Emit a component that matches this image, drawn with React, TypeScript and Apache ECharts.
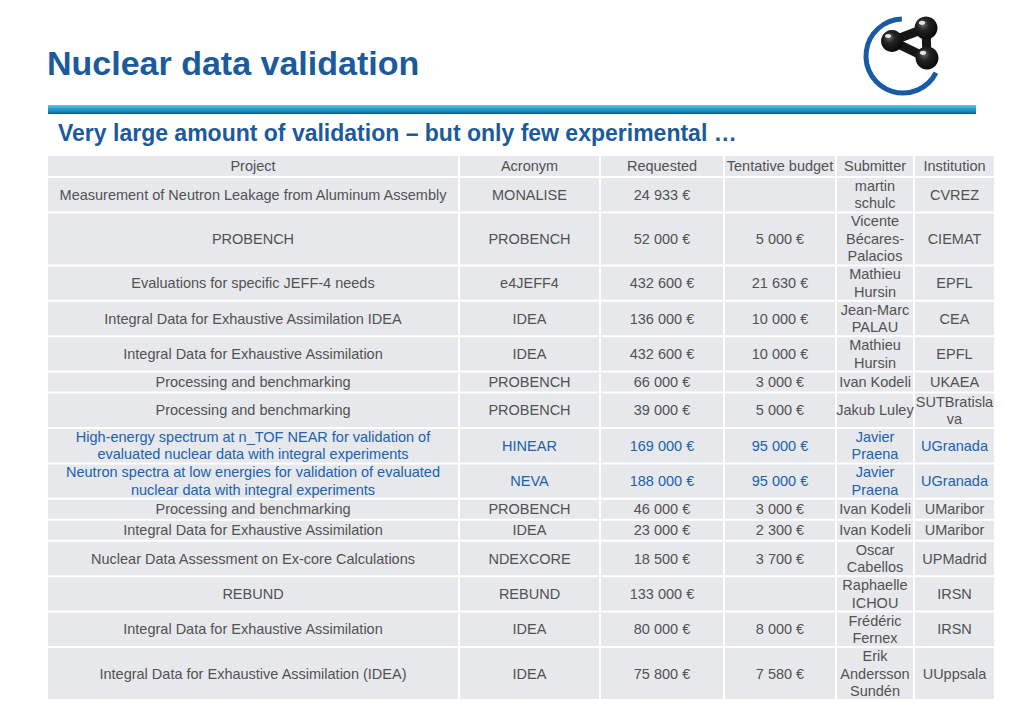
import React, { useEffect, useRef } from "react";
import * as echarts from "echarts";

const title = "Nuclear data validation";
const subtitle = "Very large amount of validation – but only few experimental …";
const headers = ["Project", "Acronym", "Requested", "Tentative budget", "Submitter", "Institution"];
const projects = [
  "Measurement of Neutron Leakage from Aluminum Assembly",
  "PROBENCH",
  "Evaluations for specific JEFF-4 needs",
  "Integral Data for Exhaustive Assimilation IDEA",
  "Integral Data for Exhaustive Assimilation",
  "Processing and benchmarking",
  "Processing and benchmarking",
  "High-energy spectrum at n_TOF NEAR for validation of\nevaluated nuclear data with integral experiments",
  "Neutron spectra at low energies for validation of evaluated\nnuclear data with integral experiments",
  "Processing and benchmarking",
  "Integral Data for Exhaustive Assimilation",
  "Nuclear Data Assessment on Ex-core Calculations",
  "REBUND",
  "Integral Data for Exhaustive Assimilation",
  "Integral Data for Exhaustive Assimilation (IDEA)",
];
const acronyms = ["MONALISE", "PROBENCH", "e4JEFF4", "IDEA", "IDEA", "PROBENCH", "PROBENCH", "HINEAR", "NEVA", "PROBENCH", "IDEA", "NDEXCORE", "REBUND", "IDEA", "IDEA"];
const requested = [24933, 52000, 432600, 136000, 432600, 66000, 39000, 169000, 188000, 46000, 23000, 18500, 133000, 80000, 75800];
const budget: (number | null)[] = [null, 5000, 21630, 10000, 10000, 3000, 5000, 95000, 95000, 3000, 2300, 3700, null, 8000, 7580];
const submitters = [
  "martin\nschulc", "Vicente\nBécares-\nPalacios", "Mathieu\nHursin", "Jean-Marc\nPALAU", "Mathieu\nHursin",
  "Ivan Kodeli", "Jakub Luley", "Javier\nPraena", "Javier\nPraena", "Ivan Kodeli", "Ivan Kodeli",
  "Oscar\nCabellos", "Raphaelle\nICHOU", "Frédéric\nFernex", "Erik\nAndersson\nSundén",
];
const institutions = ["CVREZ", "CIEMAT", "EPFL", "CEA", "EPFL", "UKAEA", "SUTBratisla\nva", "UGranada", "UGranada", "UMaribor", "UMaribor", "UPMadrid", "IRSN", "IRSN", "UUppsala"];
const highlighted = [false, false, false, false, false, false, false, true, true, false, false, false, false, false, false];

const colEdges = [47, 459, 600, 724, 836, 914, 995];
const rowHeightByLines: Record<number, number> = { 1: 21, 2: 35.4, 3: 53 };
const tableTop = 155;
const headerH = 22;

const fmtEuro = (v: number | null) => {
  if (v === null) return "";
  const s = String(v).replace(/\B(?=(\d{3})+(?!\d))/g, " ");
  return s + " €";
};

const GRAY = "#525252";
const BLUE = "#2062ab";
const CELL = "#e7e8eb";
const FONT = "'Liberation Sans', Arial, Helvetica, sans-serif";

function buildGraphic() {
  const els: any[] = [];
  els.push({
    type: "text",
    style: { x: 47, y: 63, text: title, fill: "#1b5a9b", font: `bold 34px ${FONT}`, textVerticalAlign: "middle" },
  });
  els.push({
    type: "rect",
    shape: { x: 48, y: 105, width: 928, height: 9 },
    style: {
      fill: {
        type: "linear", x: 0, y: 0, x2: 0, y2: 1,
        colorStops: [
          { offset: 0, color: "#74c6e2" },
          { offset: 0.35, color: "#2aa2d2" },
          { offset: 0.75, color: "#1585b8" },
          { offset: 1, color: "#0f4c6c" },
        ],
      },
    },
  });
  els.push({
    type: "text",
    style: { x: 58, y: 133, text: subtitle, fill: "#1b5a9b", font: `bold 23px ${FONT}`, textVerticalAlign: "middle" },
  });
  els.push({
    type: "arc",
    shape: { cx: 903, cy: 56, r: 37, startAngle: 0.47, endAngle: Math.PI * 1.49, clockwise: true },
    style: { stroke: "#1a5aa5", lineWidth: 5, fill: "none" },
  });
  const atoms = [
    [892, 41, 11],
    [926, 28, 11.5],
    [927, 58, 11.5],
  ];
  const bonds = [[0, 1], [1, 2], [2, 0]];
  bonds.forEach(([a, b]) => {
    els.push({
      type: "line",
      shape: { x1: atoms[a][0], y1: atoms[a][1], x2: atoms[b][0], y2: atoms[b][1] },
      style: { stroke: "#161616", lineWidth: 9, lineCap: "round" },
    });
  });
  atoms.forEach(([cx, cy, r]) => {
    els.push({
      type: "circle",
      shape: { cx, cy, r },
      style: {
        fill: {
          type: "radial", x: 0.38, y: 0.35, r: 0.75,
          colorStops: [
            { offset: 0, color: "#6a6a6a" },
            { offset: 0.35, color: "#222" },
            { offset: 1, color: "#050505" },
          ],
        },
      },
    });
    els.push({
      type: "ellipse",
      shape: { cx: cx - r * 0.35, cy: cy - r * 0.45, rx: r * 0.28, ry: r * 0.18 },
      style: { fill: "rgba(255,255,255,0.85)" },
    });
  });

  const drawRow = (cells: string[], y0: number, h: number, color: string) => {
    for (let c = 0; c < 6; c++) {
      const x0 = colEdges[c];
      const x1 = colEdges[c + 1];
      els.push({
        type: "rect",
        shape: { x: x0 + 1, y: y0 + 1, width: x1 - x0 - 2, height: h - 2 },
        style: { fill: CELL },
      });
      if (cells[c]) {
        els.push({
          type: "text",
          style: {
            x: (x0 + x1) / 2,
            y: y0 + h / 2,
            text: cells[c],
            fill: color,
            font: `14.5px ${FONT}`,
            lineHeight: 17.5,
            textAlign: "center",
            textVerticalAlign: "middle",
          },
        });
      }
    }
  };
  drawRow(headers, tableTop, headerH, GRAY);
  let y = tableTop + headerH;
  for (let i = 0; i < projects.length; i++) {
    const cells = [projects[i], acronyms[i], fmtEuro(requested[i]), fmtEuro(budget[i]), submitters[i], institutions[i]];
    const lines = Math.max(...cells.map((s) => s.split("\n").length));
    const h = rowHeightByLines[lines];
    drawRow(cells, y, h, highlighted[i] ? BLUE : GRAY);
    y += h;
  }
  return els;
}

export default function App() {
  const ref = useRef<HTMLDivElement>(null);
  useEffect(() => {
    if (!ref.current) return;
    const chart = echarts.init(ref.current, undefined, { renderer: "svg" });
    chart.setOption({
      animation: false,
      backgroundColor: "#ffffff",
      graphic: buildGraphic(),
    });
    return () => chart.dispose();
  }, []);
  return (
    <div
      ref={ref}
      style={{ position: "fixed", left: 0, top: 0, width: 1024, height: 724, background: "#fff" }}
    />
  );
}
